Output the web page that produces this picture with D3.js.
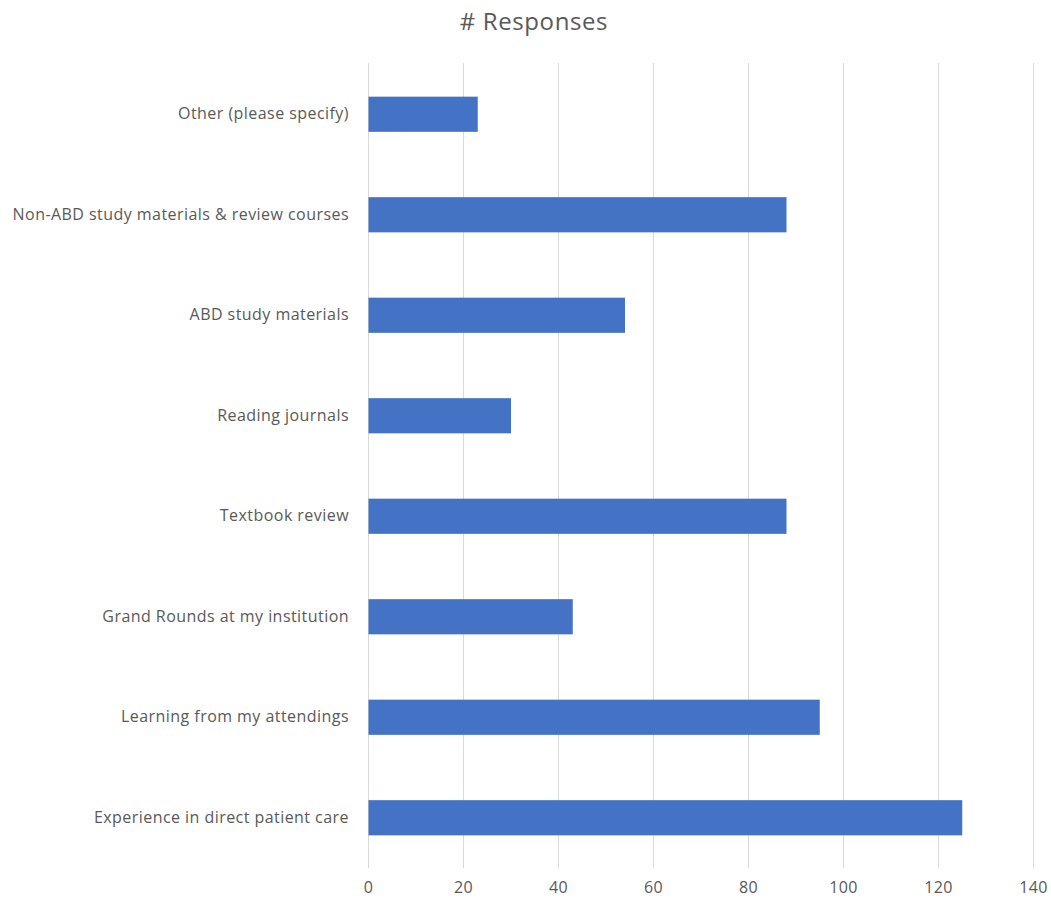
<!DOCTYPE html>
<html>
<head>
<meta charset="utf-8">
<script src="https://cdn.jsdelivr.net/npm/d3@7"></script>
<style>
  html, body { margin: 0; padding: 0; background: #fff; }
  svg { display: block; }
</style>
</head>
<body>
<div id="chart"></div>
<script>
// Survey answers: where respondents learned the material
const categories = [
  "Other (please specify)",
  "Non-ABD study materials & review courses",
  "ABD study materials",
  "Reading journals",
  "Textbook review",
  "Grand Rounds at my institution",
  "Learning from my attendings",
  "Experience in direct patient care"
];
const responses = [23, 88, 54, 30, 88, 43, 95, 125];
const xTicks = [0, 20, 40, 60, 80, 100, 120, 140];
const chartTitle = "# Responses";

const width = 1051, height = 903;
const margin = { top: 64, right: 18, bottom: 35, left: 368 };
const font = "'Open Sans', sans-serif";
const textColor = "#595959";

const svg = d3.select("#chart").append("svg")
  .attr("width", width).attr("height", height);

const x = d3.scaleLinear()
  .domain([0, 140])
  .range([margin.left, width - margin.right]);

const y = d3.scaleBand()
  .domain(categories)
  .range([margin.top, height - margin.bottom])
  .paddingInner(0.65)
  .paddingOuter(0.325);

// vertical gridlines
svg.append("g")
  .selectAll("line")
  .data(xTicks)
  .join("line")
  .attr("x1", d => Math.round(x(d)) + 0.5)
  .attr("x2", d => Math.round(x(d)) + 0.5)
  .attr("y1", margin.top - 1)
  .attr("y2", height - margin.bottom)
  .attr("stroke", "#d9d9d9")
  .attr("stroke-width", 1);

// bars
svg.append("g")
  .selectAll("rect")
  .data(categories.map((c, i) => ({ c, v: responses[i] })))
  .join("rect")
  .attr("x", x(0) + 0.5)
  .attr("y", d => y(d.c))
  .attr("width", d => x(d.v) - x(0))
  .attr("height", y.bandwidth())
  .attr("fill", "#4472c4");

// x axis tick labels
const xAxis = d3.axisBottom(x).tickValues(xTicks).tickSize(0).tickPadding(14);
const gx = svg.append("g")
  .attr("transform", `translate(0,${height - margin.bottom})`)
  .call(xAxis);
gx.select(".domain").remove();
gx.selectAll("text")
  .attr("font-family", font)
  .attr("font-size", 16)
  .attr("letter-spacing", "0.3px")
  .attr("fill", textColor);

// category labels
const yAxis = d3.axisLeft(y).tickSize(0).tickPadding(19);
const gy = svg.append("g")
  .attr("transform", `translate(${margin.left},0)`)
  .call(yAxis);
gy.select(".domain").remove();
gy.selectAll("text")
  .attr("font-family", font)
  .attr("font-size", 16)
  .attr("letter-spacing", "0.45px")
  .attr("fill", textColor);

// title
svg.append("text")
  .attr("x", 534)
  .attr("y", 30)
  .attr("text-anchor", "middle")
  .attr("font-family", font)
  .attr("font-size", 24)
  .attr("letter-spacing", "0.6px")
  .attr("fill", textColor)
  .text(chartTitle);
</script>
</body>
</html>
